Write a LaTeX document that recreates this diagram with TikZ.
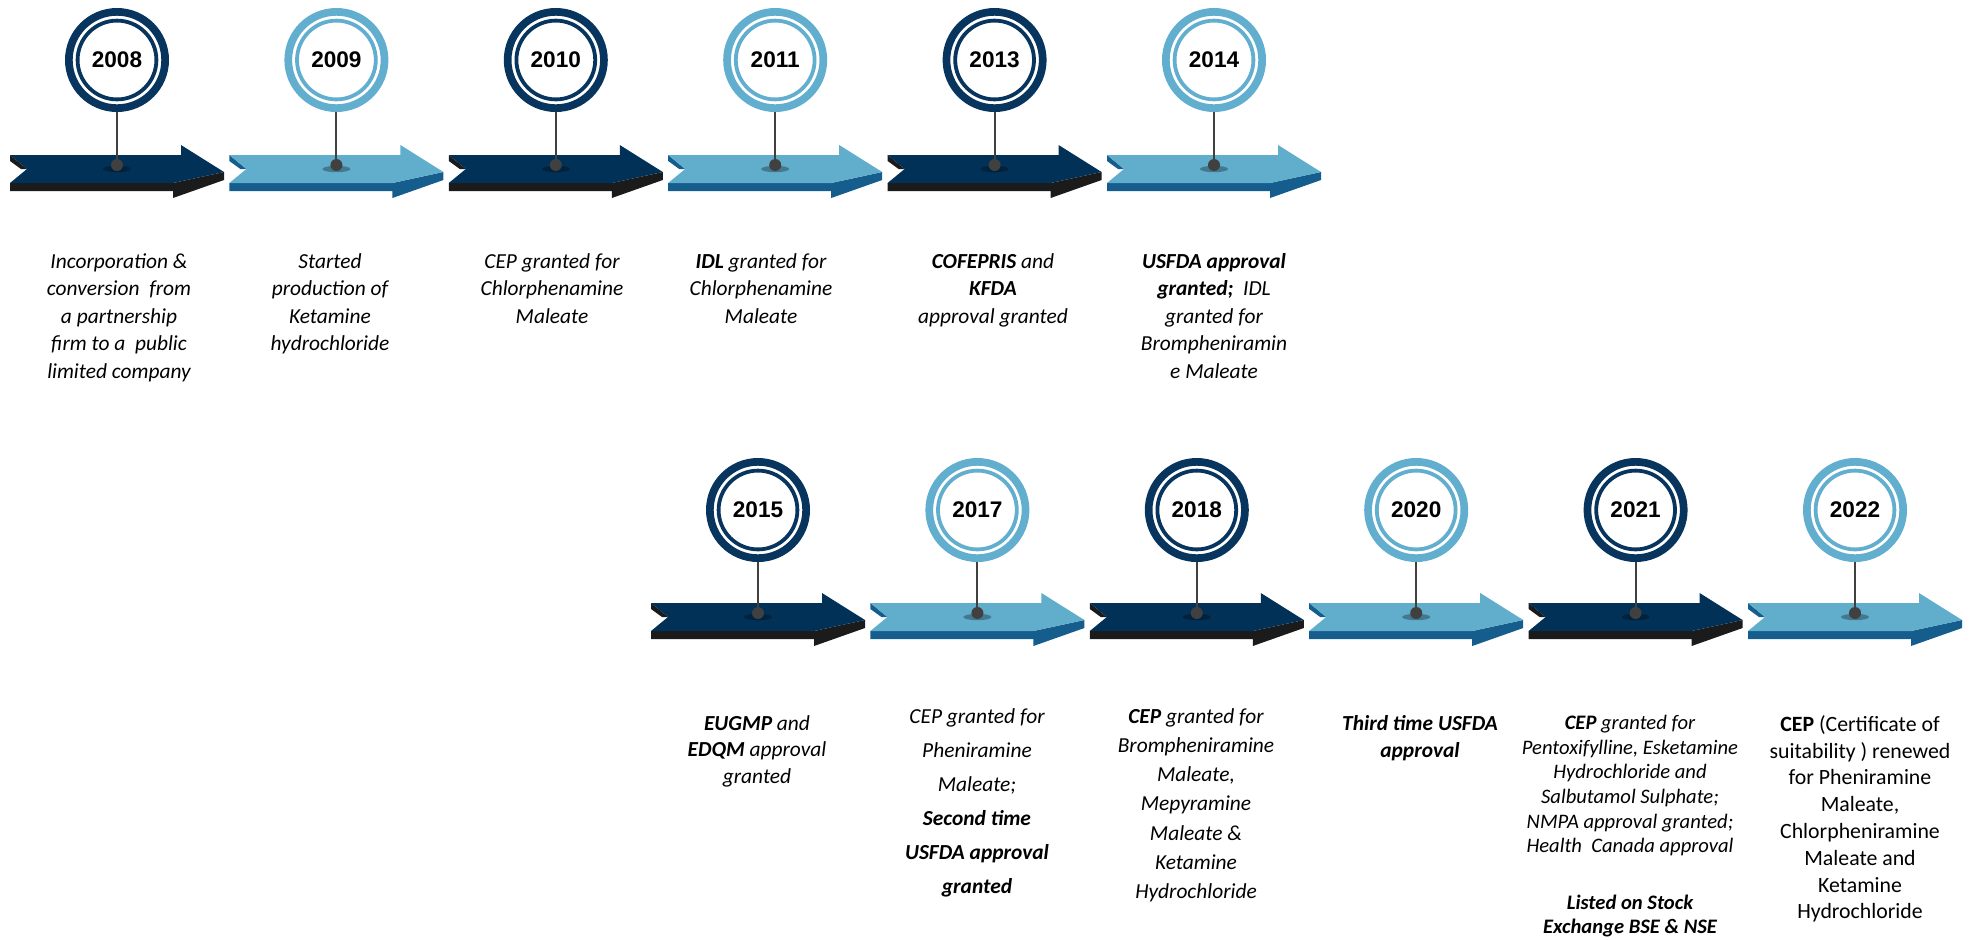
\documentclass[tikz,border=0pt]{standalone}
\usepackage{fontspec}
\setmainfont{Carlito}
\newfontfamily\yearfont{Liberation Sans}
\usepackage{tikz}
\definecolor{navyring}{HTML}{07355E}
\definecolor{navyface}{HTML}{023158}
\definecolor{navyside}{HTML}{1B1B1B}
\definecolor{skyring}{HTML}{62AECF}
\definecolor{skyface}{HTML}{60ADCC}
\definecolor{skyside}{HTML}{155D8C}
\definecolor{stemgray}{HTML}{404040}

\begin{document}
\begin{tikzpicture}[x=0.5pt,y=-0.5pt,node distance=109.7pt,
    year/.style={circle,draw=#1,line width=3.85pt,fill=white,minimum size=48.15pt,inner sep=0pt,
      font=\yearfont\bfseries\fontsize{11.3}{13}\selectfont,
      path picture={\draw[#1,line width=1.9pt] (path picture bounding box.center) circle[radius=19.7pt];}},
    dot/.style={circle,fill=stemgray,minimum size=6pt,inner sep=0pt},
    stem/.style={draw=stemgray,line width=1pt},
    note/.style={anchor=north,align=center,inner sep=0pt,font=\itshape\fontsize{10.7}{13.3}\selectfont},
    upper note/.style={note,font=\itshape\fontsize{10.7}{13.75}\selectfont},
    pics/tlarrow/.style 2 args={code={
      \fill[#2] (-107,28) -- (56,28) -- (107,17) -- (107,25) -- (56,43) -- (56,36) -- (-107,36) -- cycle;
      \fill[#2] (-107,0) -- (-90,14) -- (-96,14) -- (-107,6) -- cycle;
      \fill[#1] (-107,0) -- (64,0) -- (64,-10) -- (107,17) -- (56,28) -- (-107,28) -- (-90,14) -- cycle;
      \fill[black,opacity=.3] (0,14) ellipse [x radius=7pt,y radius=1.6pt];
    }}]
  \useasboundingbox (0,0) rectangle (1971,939);

  \node[year=navyring] (y2008) at (117,60) {2008};
  \node[year=skyring] (y2009) [right of=y2008] {2009};
  \node[year=navyring] (y2010) [right of=y2009] {2010};
  \node[year=skyring] (y2011) [right of=y2010] {2011};
  \node[year=navyring] (y2013) [right of=y2011] {2013};
  \node[year=skyring] (y2014) [right of=y2013] {2014};

  \node[year=navyring] (y2015) at (758,510) {2015};
  \node[year=skyring] (y2017) [right of=y2015] {2017};
  \node[year=navyring] (y2018) [right of=y2017] {2018};
  \node[year=skyring] (y2020) [right of=y2018] {2020};
  \node[year=navyring] (y2021) [right of=y2020] {2021};
  \node[year=skyring] (y2022) [right of=y2021] {2022};

  \pic at (y2008 |- 0,155) {tlarrow={navyface}{navyside}};
  \pic at (y2009 |- 0,155) {tlarrow={skyface}{skyside}};
  \pic at (y2010 |- 0,155) {tlarrow={navyface}{navyside}};
  \pic at (y2011 |- 0,155) {tlarrow={skyface}{skyside}};
  \pic at (y2013 |- 0,155) {tlarrow={navyface}{navyside}};
  \pic at (y2014 |- 0,155) {tlarrow={skyface}{skyside}};
  \pic at (y2015 |- 0,603) {tlarrow={navyface}{navyside}};
  \pic at (y2017 |- 0,603) {tlarrow={skyface}{skyside}};
  \pic at (y2018 |- 0,603) {tlarrow={navyface}{navyside}};
  \pic at (y2020 |- 0,603) {tlarrow={skyface}{skyside}};
  \pic at (y2021 |- 0,603) {tlarrow={navyface}{navyside}};
  \pic at (y2022 |- 0,603) {tlarrow={skyface}{skyside}};

  \node[dot] (d2008) at (y2008 |- 0,165) {};
  \node[dot] (d2009) at (y2009 |- 0,165) {};
  \node[dot] (d2010) at (y2010 |- 0,165) {};
  \node[dot] (d2011) at (y2011 |- 0,165) {};
  \node[dot] (d2013) at (y2013 |- 0,165) {};
  \node[dot] (d2014) at (y2014 |- 0,165) {};
  \node[dot] (d2015) at (y2015 |- 0,613) {};
  \node[dot] (d2017) at (y2017 |- 0,613) {};
  \node[dot] (d2018) at (y2018 |- 0,613) {};
  \node[dot] (d2020) at (y2020 |- 0,613) {};
  \node[dot] (d2021) at (y2021 |- 0,613) {};
  \node[dot] (d2022) at (y2022 |- 0,613) {};

  \draw[stem] (y2008) -- (d2008);
  \draw[stem] (y2009) -- (d2009);
  \draw[stem] (y2010) -- (d2010);
  \draw[stem] (y2011) -- (d2011);
  \draw[stem] (y2013) -- (d2013);
  \draw[stem] (y2014) -- (d2014);
  \draw[stem] (y2015) -- (d2015);
  \draw[stem] (y2017) -- (d2017);
  \draw[stem] (y2018) -- (d2018);
  \draw[stem] (y2020) -- (d2020);
  \draw[stem] (y2021) -- (d2021);
  \draw[stem] (y2022) -- (d2022);

  \node[upper note] (t2008) at (119,253) {Incorporation \&\\ conversion\ \ from\\ a partnership\\ firm to a\ \ public\\ limited company};
  \node[upper note] (t2009) at (330,253) {Started\\ production of\\ Ketamine\\ hydrochloride};
  \node[upper note] (t2010) at (552,253) {CEP granted for\\ Chlorphenamine\\ Maleate};
  \node[upper note] (t2011) at (761,253) {\textbf{IDL} granted for\\ Chlorphenamine\\ Maleate};
  \node[upper note] (t2013) at (993,253) {\textbf{COFEPRIS} and\\ \textbf{KFDA}\\ approval granted};
  \node[upper note] (t2014) at (1214,253) {\textbf{USFDA approval}\\ \textbf{granted;}\ \ IDL\\ granted for\\ Brompheniramin\\ e Maleate};

  \node[note] (t2015) at (757,715) {\textbf{EUGMP} and\\ \textbf{EDQM} approval\\ granted};
  \node[note,font=\itshape\fontsize{10.7}{17}\selectfont] (t2017) at (977,708) {CEP granted for\\ Pheniramine\\ Maleate;\\ \textbf{Second time}\\ \textbf{USFDA approval}\\ \textbf{granted}};
  \node[note,font=\itshape\fontsize{10.7}{14.6}\selectfont] (t2018) at (1196,708) {\textbf{CEP} granted for\\ Brompheniramine\\ Maleate,\\ Mepyramine\\ Maleate \&\\ Ketamine\\ Hydrochloride};
  \node[note] (t2020) at (1420,715) {\textbf{Third time USFDA}\\ \textbf{approval}};
  \node[note,font=\itshape\fontsize{10.3}{12.3}\selectfont] (t2021) at (1630,715) {\textbf{CEP} granted for\\ Pentoxifylline, Esketamine\\ Hydrochloride and\\ Salbutamol Sulphate;\\ NMPA approval granted;\\ Health\ \ Canada approval\\[16pt] \textbf{Listed on Stock}\\ \textbf{Exchange BSE \& NSE}};
  \node[note,font=\fontsize{10.9}{13.4}\selectfont] (t2022) at (1860,715) {\textbf{CEP} (Certificate of\\ suitability ) renewed\\ for Pheniramine\\ Maleate,\\ Chlorpheniramine\\ Maleate and\\ Ketamine\\ Hydrochloride};
\end{tikzpicture}
\end{document}
